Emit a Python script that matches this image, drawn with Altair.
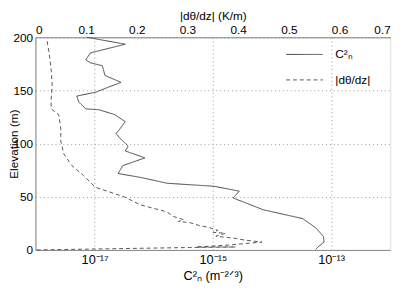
import altair as alt
import pandas as pd

# C_n^2 profile (bottom log axis)
cn2_elev = [200, 193.5, 185.3, 178.8, 176, 173.3, 164.1, 157.6, 153, 148.4, 144.7, 139.2,
            132.7, 131.8, 127.2, 120.7, 111.5, 109.7, 105, 97.7, 93.1, 86.6, 79.3, 71.9,
            68.2, 62.7, 59.9, 55.3, 48.9, 37.8, 29.5, 21.2, 12.9, 7.4, 2.8, 0.5]
cn2_val = [7.4e-18, 3.3e-17, 8.5e-18, 7.1e-18, 8.5e-18, 1.35e-17, 1.5e-17, 2.8e-17, 1.7e-17,
           1.05e-17, 5.0e-18, 5.4e-18, 7.1e-18, 1.2e-17, 2.2e-17, 3.3e-17, 2.5e-17, 2.3e-17,
           2.7e-17, 3.7e-17, 3.3e-17, 7.1e-17, 3.0e-17, 2.5e-17, 6.0e-17, 1.7e-16, 1.05e-15,
           2.8e-15, 2.2e-15, 7.1e-15, 3.3e-14, 5.4e-14, 7.4e-14, 7.6e-14, 6.0e-14, 5.5e-14]

# |dtheta/dz| profile (top linear axis)
dt_elev = [196.3, 185.3, 169.6, 155.8, 141.9, 132.7, 127.2, 114.3, 102.3, 90.3, 79.3, 70,
           59, 49.8, 42.4, 35.9, 31.3, 28.6, 26.7, 25.8, 23.0, 21.2, 18.4, 16.6, 15.7, 12.9,
           11.1, 9.2, 7.4, 4.6, 3.7, 2.8, 2.8, 2.3, 0]
dt_val = [0.023, 0.027, 0.031, 0.033, 0.031, 0.031, 0.046, 0.050, 0.050, 0.056, 0.072, 0.095,
          0.118, 0.176, 0.207, 0.259, 0.273, 0.292, 0.282, 0.304, 0.323, 0.342, 0.360, 0.350,
          0.375, 0.356, 0.391, 0.414, 0.447, 0.381, 0.350, 0.317, 0.395, 0.304, 0.0]

series_names = ["C²ₙ", "|dθ/dz|"]
y_ticks = [0, 50, 100, 150, 200]
log_ticks = [1e-17, 1e-15, 1e-13]
lin_ticks = [0, 0.1, 0.2, 0.3, 0.4, 0.5, 0.6, 0.7]

df1 = pd.DataFrame({"elev": cn2_elev, "val": cn2_val, "i": range(len(cn2_elev)),
                    "series": series_names[0]})
df2 = pd.DataFrame({"elev": dt_elev, "val": dt_val, "i": range(len(dt_elev)),
                    "series": series_names[1]})

FONT = "Liberation Sans"

yenc = alt.Y("elev:Q", scale=alt.Scale(domain=[0, 200], nice=False),
             axis=alt.Axis(values=y_ticks, title="Elevation (m)", grid=True,
                           gridDash=[1, 3], gridColor="#999", ticks=False,
                           labelPadding=3, titleX=-15, titleFontWeight="normal",
                           labelFontSize=12, titleFontSize=12))

leg = alt.Legend(title=None, orient="none", legendX=255, legendY=-2,
                 padding=0, symbolType="stroke",
                 symbolSize=1400, symbolStrokeWidth=1, labelFontSize=12,
                 labelFont=FONT, rowPadding=-23, labelOffset=12)
color = alt.Color("series:N", scale=alt.Scale(domain=series_names, range=["#444", "#555"]),
                  legend=leg)
dash = alt.StrokeDash("series:N", scale=alt.Scale(domain=series_names, range=[[1, 0], [4, 3]]),
                      legend=leg)

line1 = alt.Chart(df1).mark_line(strokeWidth=1).encode(
    x=alt.X("val:Q", scale=alt.Scale(type="log", domain=[1e-18, 1e-12], nice=False),
            axis=alt.Axis(orient="bottom", values=log_ticks, grid=True, gridDash=[1, 3],
                          gridColor="#999", ticks=False, labelPadding=4,
                          labelFontSize=13, titleFontSize=13, titleFontWeight="normal",
                          title="C²ₙ (m⁻²ᐟ³)", titlePadding=3,
                          labelExpr="datum.value < 1e-16 ? '10⁻¹⁷' : (datum.value < 1e-14 ? '10⁻¹⁵' : '10⁻¹³')")),
    y=yenc, order="i:Q", color=color, strokeDash=dash)

line2 = alt.Chart(df2).mark_line(strokeWidth=1).encode(
    x=alt.X("val:Q", scale=alt.Scale(domain=[0, 0.7], nice=False),
            axis=alt.Axis(orient="top", values=lin_ticks, grid=False, ticks=False,
                          labelFontSize=12, titleFontSize=12, titleFontWeight="normal",
                          format="~g", labelPadding=1, title="|dθ/dz| (K/m)", titlePadding=1)),
    y=yenc, order="i:Q", color=color, strokeDash=dash)

chart = alt.layer(line1, line2).resolve_scale(x="independent").properties(
    width=362, height=217,
    autosize=alt.AutoSizeParams(type="none"),
    padding={"left": 28, "top": 27, "right": 11, "bottom": 39},
).configure_view(stroke="black", strokeWidth=1).configure_axis(
    domain=False, labelFont=FONT, titleFont=FONT,
    labelColor="black", titleColor="black"
).configure(background="white")

chart.save("out.html", embed_options={"renderer": "svg", "actions": False})
